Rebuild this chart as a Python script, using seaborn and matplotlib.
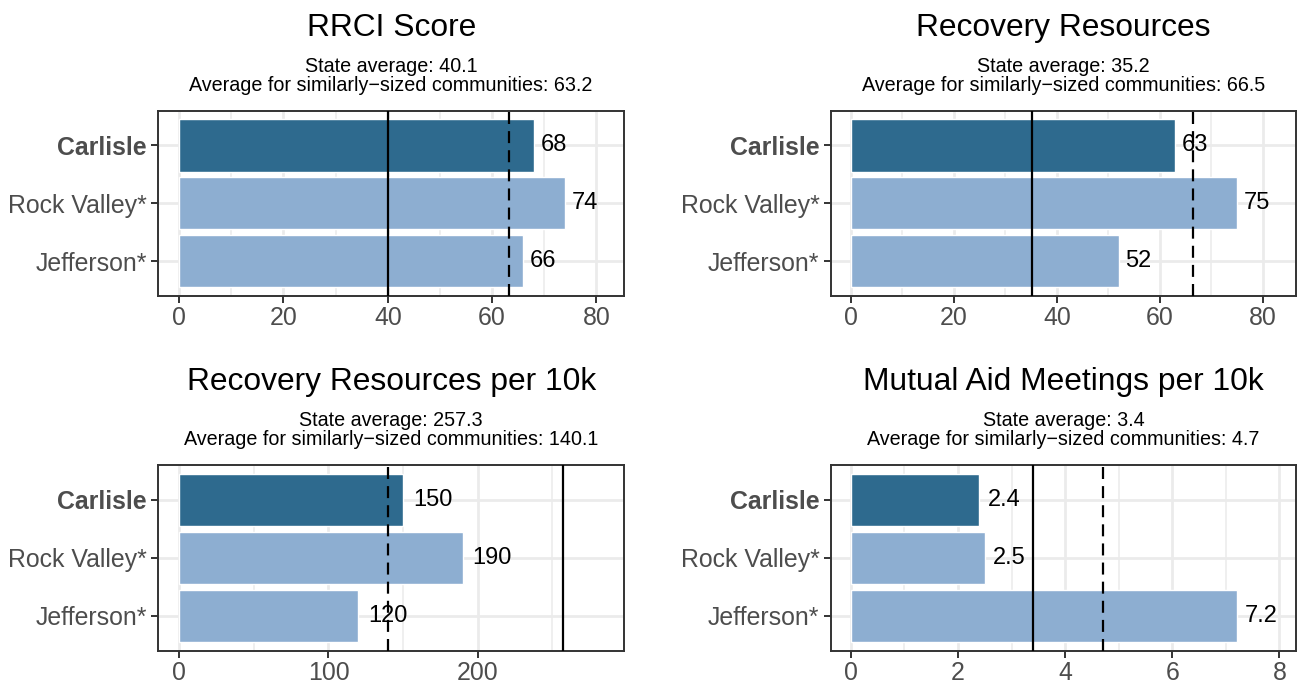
import matplotlib
matplotlib.use('Agg')
import matplotlib.pyplot as plt
import matplotlib.transforms as mtransforms
import seaborn as sns
import pandas as pd

# data
communities = ["Carlisle", "Rock Valley*", "Jefferson*"]
titles = ["RRCI Score", "Recovery Resources",
          "Recovery Resources per 10k", "Mutual Aid Meetings per 10k"]
rrci = [68, 74, 66]
resources = [63, 75, 52]
resources_10k = [150, 190, 120]
meetings_10k = [2.4, 2.5, 7.2]
state_avg = [40.1, 35.2, 257.3, 3.4]
similar_avg = [63.2, 66.5, 140.1, 4.7]

panel_values = [rrci, resources, resources_10k, meetings_10k]
xlims = [(-4.0, 85.3), (-3.9, 86.5), (-14, 298), (-0.37, 8.31)]
major_ticks = [[0, 20, 40, 60, 80], [0, 20, 40, 60, 80], [0, 100, 200], [0, 2, 4, 6, 8]]
minor_ticks = [[10, 30, 50, 70], [10, 30, 50, 70], [50, 150, 250], [1, 3, 5, 7]]

dark = "#2E6A8E"
light = "#8DAED1"
palette = {"Carlisle": dark, "Rock Valley*": light, "Jefferson*": light}

sns.set_theme(style="white")
plt.rcParams['font.family'] = ['Liberation Sans', 'DejaVu Sans']

W, H = 1297, 683
fig = plt.figure(figsize=(W / 100, H / 100), dpi=100)

# panel frames in pixels: left, right, top, bottom
boxes = [(158.3, 624, 110.7, 296), (831, 1296, 110.7, 296),
         (158.3, 624, 465, 650.7), (831, 1296, 465, 650.7)]

label_size = 17

for i in range(4):
    l, r, t, b = boxes[i]
    ax = fig.add_axes([l / W, 1 - b / H, (r - l) / W, (b - t) / H])
    df = pd.DataFrame({"community": communities, "value": panel_values[i]})

    sns.barplot(data=df, x="value", y="community", hue="community", palette=palette,
                order=communities, hue_order=communities, width=0.9, saturation=1,
                errorbar=None, legend=False, orient="h", ax=ax, zorder=2)

    ax.axvline(state_avg[i], color="black", lw=1.6, zorder=3)
    ax.axvline(similar_avg[i], color="black", lw=1.6, ls=(0, (5.4, 3.2)), zorder=3)

    # value labels, nudged right by a quarter of their width
    for j, v in enumerate(panel_values[i]):
        txt = f"{v:g}"
        w = sum(0.278 if c == "." else 0.556 for c in txt) * label_size
        ax.annotate(txt, (v, j), xytext=(0.25 * w, 0), textcoords="offset points",
                    ha="left", va="center", fontsize=label_size, color="black", zorder=4)

    ax.set_xlim(*xlims[i])
    ax.set_ylim(2.6, -0.6)
    ax.set_xticks(major_ticks[i])
    ax.set_xticks(minor_ticks[i], minor=True)
    ax.set_xticklabels([f"{x:g}" for x in major_ticks[i]])
    ax.set_xlabel("")
    ax.set_ylabel("")
    ax.set_axisbelow(True)
    ax.grid(which="major", color="#EBEBEB", lw=2)
    ax.grid(which="minor", axis="x", color="#EBEBEB", lw=1.1)

    ax.tick_params(which="major", length=4.7, width=1.4, color="#333333",
                   labelcolor="#4D4D4D", labelsize=17.9, pad=3.6, left=True, bottom=True)
    ax.tick_params(axis="x", which="major", pad=2.6)
    ax.tick_params(which="minor", length=0)
    for lab in ax.get_yticklabels():
        if lab.get_text() == "Carlisle":
            lab.set_fontweight("bold")
    for s in ax.spines.values():
        s.set_color("#333333")
        s.set_linewidth(1.4)

    # title and two-line subtitle above the panel
    def above(px):
        return mtransforms.offset_copy(ax.transAxes, fig=fig, x=0, y=px, units="dots")
    ax.text(0.5, 1, titles[i], transform=above(74.7), ha="center", va="baseline",
            fontsize=22.9, color="black")
    ax.text(0.5, 1, f"State average: {state_avg[i]}", transform=above(39),
            ha="center", va="baseline", fontsize=14.2, color="black")
    ax.text(0.5, 1, f"Average for similarly\u2212sized communities: {similar_avg[i]}",
            transform=above(20), ha="center", va="baseline", fontsize=14.2, color="black")

fig.savefig("out.png", dpi=100, facecolor="white")
plt.close(fig)
